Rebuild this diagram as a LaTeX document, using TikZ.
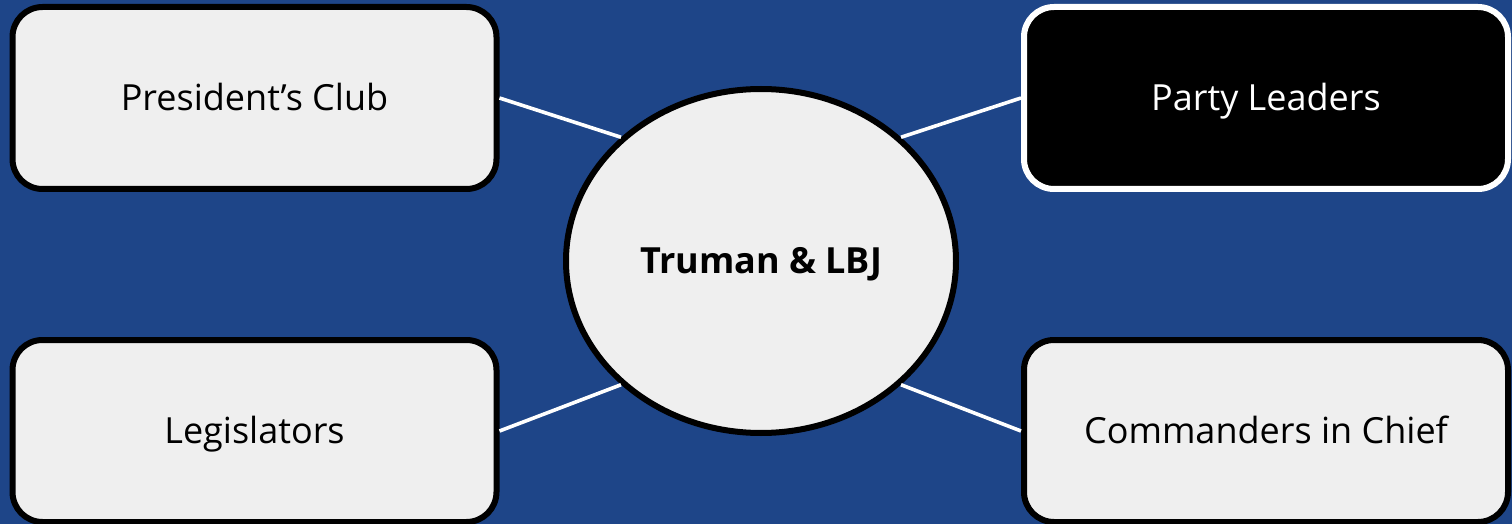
\documentclass[tikz,border=0pt]{standalone}
\usepackage{fontspec}
\setmainfont{Open Sans}
\usetikzlibrary{shapes.geometric}
\definecolor{bgblue}{RGB}{30,69,136}
\definecolor{boxgray}{RGB}{239,239,239}
\begin{document}
\begin{tikzpicture}[x=0.5pt,y=-0.5pt,
  card/.style={rectangle,rounded corners=15pt,draw=black,fill=boxgray,line width=3pt,
    minimum width=242pt,minimum height=91pt,inner sep=0pt,font=\fontsize{18}{22}\selectfont,text=black,
    text height=12.85pt,text depth=0pt},
  darkcard/.style={card,draw=white,fill=black,text=white},
  hub/.style={ellipse,draw=black,fill=boxgray,line width=3pt,minimum width=195pt,minimum height=172pt,
    inner sep=0pt,font=\fontsize{18}{22}\selectfont\bfseries,text height=12.85pt,text depth=0pt},
  link/.style={draw=white,line width=1.8pt}]
\fill[bgblue] (0,0) rectangle (1512,524);
\useasboundingbox (0,0) rectangle (1512,524);
\node[card] (pc) at (254.5,98) {President’s Club};
\node[darkcard] (pl) at (1266,98) {Party Leaders};
\node[card] (lg) at (254.5,431) {Legislators};
\node[card] (cc) at (1266,431) {Commanders in Chief};
\node[hub] (t) at (761,261) {Truman \& LBJ};
\draw[link] (pc.east) -- (t.north west);
\draw[link] (pl.west) -- (t.north east);
\draw[link] (lg.east) -- (t.south west);
\draw[link] (cc.west) -- (t.south east);
\end{tikzpicture}
\end{document}
